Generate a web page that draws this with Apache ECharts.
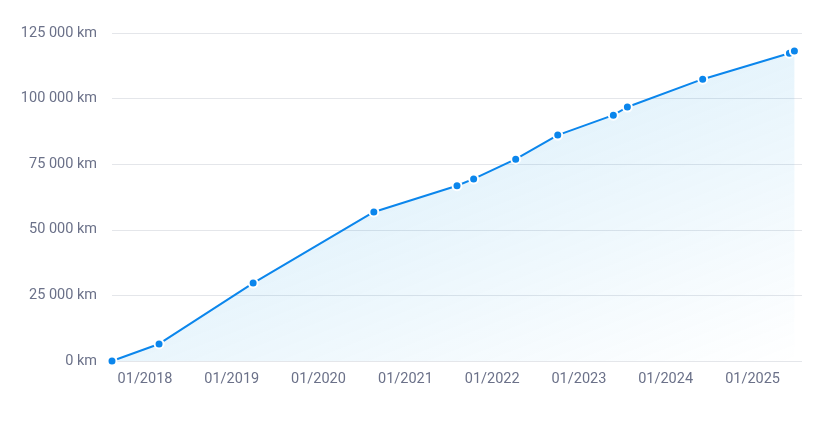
<!DOCTYPE html>
<html>
<head>
<meta charset="utf-8">
<script src="https://cdn.jsdelivr.net/npm/echarts@6/dist/echarts.min.js"></script>
<style>
  html, body { margin: 0; padding: 0; background: #fff; }
  #chart { width: 836px; height: 431px; }
</style>
</head>
<body>
<div id="chart"></div>
<script>
const dates = ['2017-08-15', '2018-03-01', '2019-04-01', '2020-08-21', '2021-08-06', '2021-10-15', '2022-04-10', '2022-10-04', '2023-05-26', '2023-07-24', '2024-06-05', '2025-06-05', '2025-06-26'];
const kmValues = [0, 6500, 29700, 56800, 66800, 69400, 76900, 86100, 93700, 96800, 107400, 117300, 118100];
const yTicks = [0, 25000, 50000, 75000, 100000, 125000];
const xMin = '2017-08-15';
const xMax = '2025-07-28';

const fmtKm = v => String(v).replace(/\B(?=(\d{3})+(?!\d))/g, ' ') + ' km';
const pad = n => (n < 10 ? '0' : '') + n;

const chart = echarts.init(document.getElementById('chart'), null, { renderer: 'canvas' });
chart.setOption({
  animation: false,
  grid: { left: 112, right: 34, top: 33, bottom: 70, containLabel: false },
  xAxis: {
    type: 'time',
    min: xMin,
    max: xMax,
    splitNumber: 8,
    minInterval: 365 * 24 * 3600 * 1000,
    axisLine: { show: false },
    axisTick: { show: false },
    splitLine: { show: false },
    axisLabel: {
      color: '#6b7189',
      fontFamily: 'Roboto',
      fontSize: 14.5,
      margin: 11,
      showMinLabel: false,
      showMaxLabel: false,
      formatter: v => { const d = new Date(v); return pad(d.getMonth() + 1) + '/' + d.getFullYear(); }
    }
  },
  yAxis: {
    type: 'value',
    min: yTicks[0],
    max: yTicks[yTicks.length - 1],
    interval: yTicks[1] - yTicks[0],
    axisLine: { show: false },
    axisTick: { show: false },
    splitLine: { lineStyle: { color: '#e4e6ea', width: 1 } },
    axisLabel: {
      color: '#6b7189',
      fontFamily: 'Roboto',
      fontSize: 14.5,
      margin: 15,
      formatter: fmtKm
    }
  },
  series: [{
    type: 'line',
    data: dates.map((d, i) => [d, kmValues[i]]),
    symbol: 'circle',
    symbolSize: 9,
    showAllSymbol: true,
    lineStyle: { color: '#0b86ec', width: 2 },
    itemStyle: { color: '#0b86ec', borderColor: '#ffffff', borderWidth: 2 },
    areaStyle: {
      color: new echarts.graphic.LinearGradient(0, 0, 0.29, 1.62, [
        { offset: 0, color: 'rgba(14,150,225,0.28)' },
        { offset: 1, color: 'rgba(14,150,225,0)' }
      ])
    }
  }]
});
</script>
</body>
</html>
